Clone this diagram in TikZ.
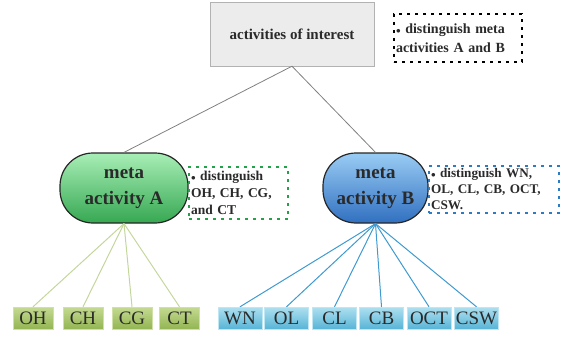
\documentclass[tikz,border=0pt]{standalone}
\usepackage{fontspec}
\setmainfont{Liberation Serif}
\definecolor{lgreen}{HTML}{C3D69B}
\definecolor{lblue}{HTML}{3E9AD0}
\definecolor{ngreen}{HTML}{22A34A}
\definecolor{nblue}{HTML}{2A7CC7}
\definecolor{gA1}{HTML}{A8EEB6}
\definecolor{gA2}{HTML}{52CC72}
\definecolor{gA3}{HTML}{36A852}
\definecolor{bB1}{HTML}{9ACCF4}
\definecolor{bB2}{HTML}{5098DC}
\definecolor{bB3}{HTML}{3070C0}
\definecolor{lg1}{HTML}{C4DA92}
\definecolor{lg2}{HTML}{93B552}
\definecolor{lb1}{HTML}{AEE0F0}
\definecolor{lb2}{HTML}{58B4D6}
\definecolor{txt}{HTML}{2A2A2A}
\begin{document}
\begin{tikzpicture}[x=1pt,y=-1pt,
  every node/.style={text=txt},
  topbox/.style={draw=gray!60, fill=gray!15, minimum width=164pt, minimum height=64pt, inner sep=0pt,
    font=\bfseries\fontsize{15}{17}\selectfont},
  notebox/.style={draw=#1, dash pattern=on 3pt off 5pt, line width=2pt, fill=white, align=left,
    inner sep=2pt, anchor=north west},
  meta/.style={draw=black!85, line width=1.2pt, rounded corners=33pt, minimum height=70pt,
    align=center, inner sep=0pt, font=\bfseries\fontsize{19}{26}\selectfont},
  metaA/.style={meta, top color=gA1, middle color=gA2, bottom color=gA3, minimum width=128pt},
  metaB/.style={meta, top color=bB1, middle color=bB2, bottom color=bB3, minimum width=105pt},
  leaf/.style={minimum height=22pt, inner sep=0pt, font=\fontsize{19}{19}\selectfont},
  leafG/.style={leaf, draw=lg1!80!white, top color=lg1, bottom color=lg2, minimum width=40pt},
  leafB/.style={leaf, draw=lb1!80!white, top color=lb1, bottom color=lb2, minimum width=44pt},
  conG/.style={lgreen, line width=1pt},
  conB/.style={lblue, line width=1pt},
  conT/.style={gray, line width=0.8pt}
]
\useasboundingbox (0,0) rectangle (567,337);
\node[topbox] (top) at (292,34) {activities of interest};
\node[notebox=black, minimum width=128pt, minimum height=48pt, text width=124pt,
  font=\bfseries\fontsize{14}{19}\selectfont] (nt) at (393,13) {{\small$\bullet$} distinguish meta\\activities A and B};
\node[metaA] (ma) at (124,188) {meta\\activity A};
\node[metaB] (mb) at (375.5,188) {meta\\activity B};
\node[notebox=ngreen, minimum width=99pt, minimum height=52pt, text width=95pt,
  font=\bfseries\fontsize{13.5}{17}\selectfont] (na) at (188,166) {{\small$\bullet$} distinguish\\OH, CH, CG,\\and CT};
\node[notebox=nblue, minimum width=130pt, minimum height=47pt, text width=126pt,
  font=\bfseries\fontsize{13.2}{16}\selectfont] (nb) at (428,165) {{\small$\bullet$} distinguish WN,\\OL, CL, CB, OCT,\\CSW.};
\node[leafG] (oh) at (33,318) {OH};
\node[leafG] (ch) at (83,318) {CH};
\node[leafG] (cg) at (132,318) {CG};
\node[leafG] (ct) at (179.5,318) {CT};
\node[leafB] (wn) at (240,318) {WN};
\node[leafB] (ol) at (286.5,318) {OL};
\node[leafB] (cl) at (334.5,318) {CL};
\node[leafB] (cb) at (381.5,318) {CB};
\node[leafB] (oct) at (429,318) {OCT};
\node[leafB] (csw) at (476.5,318) {CSW};
\draw[conT] (top.south) -- (ma.north);
\draw[conT] (top.south) -- (mb.north);
\foreach \l in {oh,ch,cg,ct} \draw[conG] (ma.south) -- (\l.north);
\foreach \l in {wn,ol,cl,cb,oct,csw} \draw[conB] (mb.south) -- (\l.north);
\end{tikzpicture}
\end{document}
